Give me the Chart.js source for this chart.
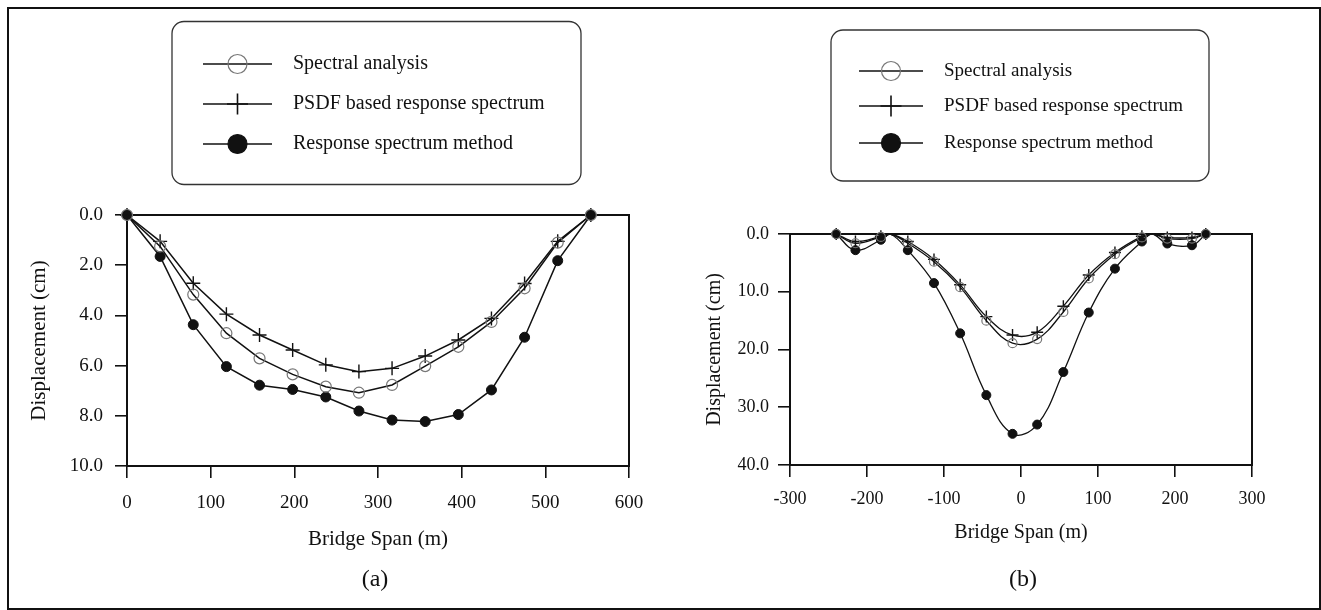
<!DOCTYPE html>
<html><head><meta charset="utf-8">
<script src="https://cdn.jsdelivr.net/npm/chart.js@4.4.1/dist/chart.umd.min.js"></script>
<style>
html,body{margin:0;padding:0;background:#fff;}
#wrap{position:relative;width:1321px;height:610px;overflow:hidden;background:#fff;}
#frame{position:absolute;left:7px;top:7px;width:1310px;height:599px;border:2px solid #111;pointer-events:none;}
canvas{position:absolute;top:0;}
#ca{left:0;} #cb{left:660px;}
.cap{position:absolute;top:565px;font:24px "Liberation Serif",serif;color:#111;width:100px;text-align:center;}
</style></head><body>
<div id="wrap">
<canvas id="ca" width="660" height="610"></canvas>
<canvas id="cb" width="661" height="610"></canvas>
<div class="cap" style="left:325px">(a)</div>
<div class="cap" style="left:973px">(b)</div>
<div id="frame"></div>
</div>
<script>
// ---------- data ----------
const seriesNames = ['Spectral analysis', 'PSDF based response spectrum', 'Response spectrum method'];

// panel (a)
const spanA = [0, 39.6, 79.2, 118.8, 158.4, 198, 237.6, 277.2, 316.8, 356.4, 396, 435.6, 475.2, 514.8, 554.4];
const spectralA = [0, 1.25, 3.17, 4.71, 5.71, 6.35, 6.84, 7.08, 6.77, 6.02, 5.25, 4.26, 2.92, 1.1, 0];
const psdfA = [0, 1.05, 2.72, 3.95, 4.78, 5.38, 5.97, 6.24, 6.11, 5.62, 4.98, 4.12, 2.73, 1.05, 0];
const rsmA = [0, 1.65, 4.37, 6.04, 6.78, 6.95, 7.25, 7.81, 8.17, 8.23, 7.95, 6.97, 4.87, 1.82, 0];
const xTickValsA = [0, 100, 200, 300, 400, 500, 600];
const xTickLabelsA = ['0', '100', '200', '300', '400', '500', '600'];
const yTickValsA = [0, 2, 4, 6, 8, 10];
const yTickLabelsA = ['0.0', '2.0', '4.0', '6.0', '8.0', '10.0'];

// panel (b)
const spanB = [-240, -215, -182, -170, -147, -113, -79, -45, -11, 21, 55, 88, 122, 157, 170, 190, 222, 240];
const supportsB = [-170, 170];
const spectralB = [0, 1.6, 0.5, 0, 1.6, 4.8, 9.2, 15.0, 18.9, 18.2, 13.5, 7.7, 3.5, 0.6, 0, 0.8, 0.8, 0];
const psdfB = [0, 1.3, 0.4, 0, 1.3, 4.4, 8.8, 14.3, 17.5, 17.0, 12.5, 7.1, 3.2, 0.4, 0, 0.6, 0.6, 0];
const rsmB = [0, 2.8, 1.0, 0, 2.8, 8.5, 17.2, 27.9, 34.6, 33.0, 23.9, 13.6, 6.0, 1.3, 0, 1.65, 1.95, 0];
const xTickValsB = [-300, -200, -100, 0, 100, 200, 300];
const xTickLabelsB = ['-300', '-200', '-100', '0', '100', '200', '300'];
const yTickValsB = [0, 10, 20, 30, 40];
const yTickLabelsB = ['0.0', '10.0', '20.0', '30.0', '40.0'];

const xTitle = 'Bridge Span (m)';
const yTitle = 'Displacement (cm)';

// ---------- helpers ----------
const FAMILY = '"Liberation Serif", "Times New Roman", serif';
Chart.defaults.font.family = FAMILY;
Chart.defaults.color = '#111';

function pts(xs, ys) { return xs.map((x, i) => ({x: x, y: ys[i]})); }

function drawMarker(ctx, style, x, y, r, stroke, fill, lw) {
  ctx.save();
  ctx.lineWidth = lw; ctx.strokeStyle = stroke; ctx.fillStyle = fill;
  if (style === 'cross') {
    ctx.beginPath();
    ctx.moveTo(x, y - r); ctx.lineTo(x, y + r);
    ctx.moveTo(x - r, y); ctx.lineTo(x + r, y);
    ctx.stroke();
  } else {
    ctx.beginPath(); ctx.arc(x, y, r, 0, Math.PI * 2);
    if (fill && fill !== 'transparent') ctx.fill();
    ctx.stroke();
  }
  ctx.restore();
}

const boxLegend = {
  id: 'boxLegend',
  afterDraw(chart, args, o) {
    const ctx = chart.ctx;
    ctx.save();
    ctx.lineWidth = 1.3; ctx.strokeStyle = '#333';
    ctx.beginPath(); ctx.roundRect(o.x, o.y, o.w, o.h, o.r); ctx.stroke();
    chart.data.datasets.forEach((ds, i) => {
      const y = o.rows[i];
      ctx.strokeStyle = ds.borderColor; ctx.lineWidth = 1.5;
      ctx.beginPath(); ctx.moveTo(o.lx1, y); ctx.lineTo(o.lx2, y); ctx.stroke();
      const mx = (o.lx1 + o.lx2) / 2;
      drawMarker(ctx, ds.pointStyle, mx, y, ds.pointStyle === 'cross' ? o.mr + 1 : o.mr,
        ds.pointBorderColor, ds.pointBackgroundColor, ds.pointStyle === 'cross' ? 1.6 : 1.2);
      ctx.fillStyle = '#111';
      ctx.font = o.fontSize + 'px ' + FAMILY;
      ctx.textBaseline = 'middle'; ctx.textAlign = 'left';
      ctx.fillText(ds.label, o.tx, y);
    });
    ctx.restore();
  }
};

const frame = {
  id: 'frame',
  beforeDatasetsDraw(chart) {
    const a = chart.chartArea, ctx = chart.ctx;
    ctx.save();
    ctx.strokeStyle = '#111'; ctx.lineWidth = 2;
    ctx.strokeRect(a.left, a.top, a.right - a.left, a.bottom - a.top);
    ctx.restore();
  }
};

function makeDatasets(xs, sp, ps, rs, sz, smooth, hidden) {
  const rad = (r) => (c) => (hidden && c.raw && hidden.includes(c.raw.x)) ? 0 : r;
  const common = {borderColor: '#111', borderWidth: sz.lw, tension: smooth ? 0.4 : 0, clip: false};
  return [
    Object.assign({}, common, {label: seriesNames[0], data: pts(xs, sp), pointStyle: 'circle',
      pointRadius: rad(sz.oc), pointBorderColor: '#777', pointBackgroundColor: 'transparent', pointBorderWidth: 1.2}),
    Object.assign({}, common, {label: seriesNames[1], data: pts(xs, ps), pointStyle: 'cross',
      pointRadius: rad(sz.cr), pointBorderColor: '#111', pointBackgroundColor: '#111', pointBorderWidth: 1.4}),
    Object.assign({}, common, {label: seriesNames[2], data: pts(xs, rs), pointStyle: 'circle',
      pointRadius: rad(sz.fc), pointBorderColor: '#111', pointBackgroundColor: '#111', pointBorderWidth: 1})
  ];
}

function makeChart(id, cfg) {
  return new Chart(document.getElementById(id), {
    type: 'line',
    data: {datasets: cfg.datasets},
    options: {
      responsive: false, animation: false, devicePixelRatio: 1,
      layout: {padding: cfg.padding},
      plugins: {legend: {display: false}, tooltip: {enabled: false}, boxLegend: cfg.legend},
      scales: {
        x: {
          type: 'linear', min: cfg.xVals[0], max: cfg.xVals[cfg.xVals.length - 1],
          afterBuildTicks: s => { s.ticks = cfg.xVals.map(v => ({value: v})); },
          afterFit: s => { s.height = cfg.xHeight; },
          ticks: {callback: (v, i) => cfg.xLabels[i], font: {size: cfg.tickSize}, padding: cfg.xPad, color: '#111', maxRotation: 0, autoSkip: false},
          grid: {drawOnChartArea: false, drawTicks: true, tickLength: 12, color: '#111', lineWidth: 1.6},
          border: {display: false},
          title: {display: true, text: xTitle, font: {size: cfg.titleSize}, color: '#111', padding: {top: 0, bottom: cfg.xTitlePad}}
        },
        y: {
          type: 'linear', reverse: true, min: cfg.yVals[0], max: cfg.yVals[cfg.yVals.length - 1],
          afterBuildTicks: s => { s.ticks = cfg.yVals.map(v => ({value: v})); },
          afterFit: s => { s.width = cfg.yWidth; },
          ticks: {callback: (v, i) => cfg.yLabels[i], font: {size: cfg.tickSize}, padding: cfg.yPad, color: '#111', autoSkip: false},
          grid: {drawOnChartArea: false, drawTicks: true, tickLength: 12, color: '#111', lineWidth: 1.6},
          border: {display: false},
          title: {display: true, text: yTitle, font: {size: cfg.titleSize}, color: '#111', padding: {top: cfg.yTitlePad, bottom: 0}}
        }
      }
    },
    plugins: [frame, boxLegend]
  });
}

makeChart('ca', {
  datasets: makeDatasets(spanA, spectralA, psdfA, rsmA, {lw: 1.5, oc: 5.5, cr: 7, fc: 5}, false, null),
  padding: {left: 10, top: 215, right: 31, bottom: 0},
  xVals: xTickValsA, xLabels: xTickLabelsA, yVals: yTickValsA, yLabels: yTickLabelsA,
  xHeight: 144, yWidth: 117, tickSize: 19, titleSize: 21, xPad: 14, yPad: 12, xTitlePad: 58, yTitlePad: 17,
  legend: {x: 172, y: 21.5, w: 409, h: 163, r: 12, rows: [64, 104, 144], lx1: 203, lx2: 272, mr: 9.5, tx: 293, fontSize: 20}
});

makeChart('cb', {
  datasets: makeDatasets(spanB, spectralB, psdfB, rsmB, {lw: 1.3, oc: 4.5, cr: 6, fc: 4.5}, true, supportsB),
  padding: {left: 10, top: 234, right: 69, bottom: 0},
  xVals: xTickValsB, xLabels: xTickLabelsB, yVals: yTickValsB, yLabels: yTickLabelsB,
  xHeight: 145, yWidth: 120, tickSize: 18, titleSize: 20, xPad: 11, yPad: 9, xTitlePad: 65, yTitlePad: 33,
  legend: {x: 171, y: 30, w: 378, h: 151, r: 12, rows: [71, 106, 143], lx1: 199, lx2: 263, mr: 9.5, tx: 284, fontSize: 19}
});
</script>
</body></html>
